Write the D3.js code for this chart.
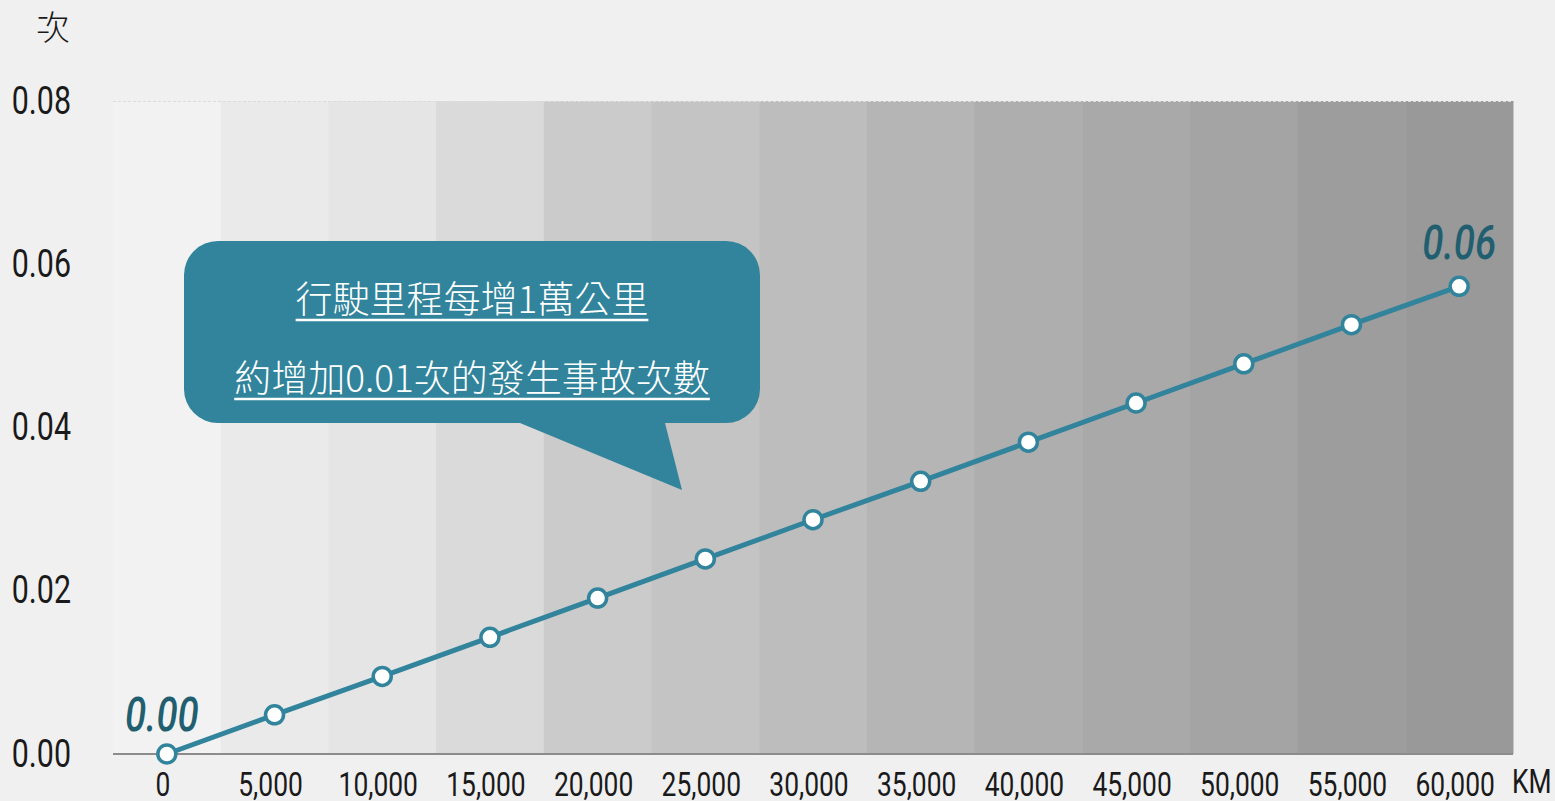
<!DOCTYPE html>
<html>
<head>
<meta charset="utf-8">
<script src="https://cdn.jsdelivr.net/npm/d3@7"></script>
<style>
  body { margin: 0; background: #f0f0f0; }
  svg { display: block; }
</style>
</head>
<body>
<div class="chart"></div>
<script>
// Chart size and plot box
const width = 1555;
const height = 801;
const margin = {top: 101, left: 113, right: 42, bottom: 47};

// Data
const kmValues = [0, 5000, 10000, 15000, 20000, 25000, 30000, 35000, 40000, 45000, 50000, 55000, 60000];
const accidentRate = [0, 0.0048, 0.0095, 0.0143, 0.0191, 0.0239, 0.0287, 0.0334, 0.0382, 0.043, 0.0478, 0.0526, 0.0573];
const bandShades = ['#f2f2f2', '#eaeaea', '#e5e5e5', '#dadada', '#cbcbcb', '#c4c4c4', '#bdbdbd', '#b5b5b5', '#aeaeae', '#a9a9a9', '#a4a4a4', '#9d9d9d', '#999999'];
const yTicks = [0, 0.02, 0.04, 0.06, 0.08];
const endLabels = ['0.00', '0.06'];
const calloutLines = ['行駛里程每增1萬公里', '約增加0.01次的發生事故次數'];

const teal = '#31849b';
const darkTeal = '#215f70';
const numFont = 'Roboto, "Noto Sans", sans-serif';
const cjkFont = '"Noto Sans CJK TC", "Noto Sans CJK SC", sans-serif';
// numbers in the original use a narrow face, so squeeze them a bit
const narrow = 'scale(0.8,1)';

const svg = d3.select('.chart')
  .append('svg')
  .attr('width', width)
  .attr('height', height);

svg.append('rect')
  .attr('width', width)
  .attr('height', height)
  .attr('fill', '#f0f0f0');

// scales - x as bands so each category gets its own shaded column
const xScale = d3.scaleBand()
  .domain(kmValues)
  .range([margin.left, width - margin.right])
  .padding(0);

const yScale = d3.scaleLinear()
  .domain([0, 0.08])
  .range([height - margin.bottom, margin.top]);

const xc = d => xScale(d) + xScale.bandwidth() / 2;

// shaded columns
svg.selectAll('.band')
  .data(kmValues)
  .enter()
  .append('rect')
  .attr('class', 'band')
  .attr('x', d => xScale(d))
  .attr('y', yScale(0.08))
  .attr('width', xScale.bandwidth() + 0.5)
  .attr('height', yScale(0) - yScale(0.08))
  .attr('fill', (d, i) => bandShades[i]);

// dashed top line
svg.append('line')
  .attr('x1', margin.left)
  .attr('x2', width - margin.right)
  .attr('y1', yScale(0.08) + 0.5)
  .attr('y2', yScale(0.08) + 0.5)
  .attr('stroke', '#dcdcdc')
  .attr('stroke-width', 1)
  .attr('stroke-dasharray', '3,2');

// baseline
svg.append('line')
  .attr('x1', margin.left)
  .attr('x2', width - margin.right)
  .attr('y1', yScale(0))
  .attr('y2', yScale(0))
  .attr('stroke', '#8c8c8c')
  .attr('stroke-width', 2);

// y axis labels
const yAxis = d3.axisLeft(yScale)
  .tickValues(yTicks)
  .tickFormat(d3.format('.2f'))
  .tickSize(0)
  .tickPadding(0);

const yAxisG = svg.append('g')
  .attr('transform', 'translate(71,0)')
  .call(yAxis);
yAxisG.select('.domain').remove();
yAxisG.selectAll('text')
  .attr('transform', narrow)
  .attr('font-family', numFont)
  .attr('font-size', 38)
  .attr('fill', '#1a1a1a');

// x axis labels
const xAxis = d3.axisBottom(xScale)
  .tickFormat(d => d === 0 ? '0' : d3.format(',')(d))
  .tickSize(0)
  .tickPadding(0);

const xAxisG = svg.append('g')
  .attr('transform', `translate(-4,${yScale(0)})`)
  .call(xAxis);
xAxisG.select('.domain').remove();
xAxisG.selectAll('text')
  .attr('dy', null)
  .attr('y', 42)
  .attr('transform', narrow)
  .attr('font-family', numFont)
  .attr('font-size', 33)
  .attr('fill', '#1a1a1a');

// axis unit labels
svg.append('text')
  .attr('x', 53)
  .attr('y', 40)
  .attr('text-anchor', 'middle')
  .attr('font-family', cjkFont)
  .attr('font-weight', 300)
  .attr('font-size', 34)
  .attr('fill', '#1a1a1a')
  .text('次');

svg.append('text')
  .attr('transform', 'translate(1512,793) ' + narrow)
  .attr('font-family', numFont)
  .attr('font-size', 33)
  .attr('fill', '#1a1a1a')
  .text('KM');

// the line
const line = d3.line()
  .x((d, i) => xc(kmValues[i]))
  .y(d => yScale(d));

svg.append('path')
  .datum(accidentRate)
  .attr('d', line)
  .attr('fill', 'none')
  .attr('stroke', teal)
  .attr('stroke-width', 5);

svg.selectAll('.dot')
  .data(accidentRate)
  .enter()
  .append('circle')
  .attr('class', 'dot')
  .attr('cx', (d, i) => xc(kmValues[i]))
  .attr('cy', d => yScale(d))
  .attr('r', 9)
  .attr('fill', '#ffffff')
  .attr('stroke', teal)
  .attr('stroke-width', 3.5);

// first and last value labels
const endIdx = [0, kmValues.length - 1];
svg.selectAll('.endLabel')
  .data(endIdx)
  .enter()
  .append('text')
  .attr('class', 'endLabel')
  .attr('transform', (d, i) => `translate(${xc(kmValues[d]) - (i === 0 ? 5 : 0)},${yScale(accidentRate[d]) - (i === 0 ? 23 : 27)}) ${narrow}`)
  .attr('text-anchor', 'middle')
  .attr('font-family', numFont)
  .attr('font-style', 'italic')
  .attr('font-weight', 500)
  .attr('font-size', 48)
  .attr('fill', darkTeal)
  .text((d, i) => endLabels[i]);

// callout bubble
const bx = 184, by = 241, bw = 576, bh = 182, br = 34;
const bubble = d3.path();
bubble.moveTo(bx + br, by);
bubble.lineTo(bx + bw - br, by);
bubble.arcTo(bx + bw, by, bx + bw, by + br, br);
bubble.lineTo(bx + bw, by + bh - br);
bubble.arcTo(bx + bw, by + bh, bx + bw - br, by + bh, br);
bubble.lineTo(665, by + bh);
bubble.lineTo(682, 490);
bubble.lineTo(520, by + bh);
bubble.lineTo(bx + br, by + bh);
bubble.arcTo(bx, by + bh, bx, by + bh - br, br);
bubble.lineTo(bx, by + br);
bubble.arcTo(bx, by, bx + br, by, br);
bubble.closePath();

svg.append('path')
  .attr('d', bubble.toString())
  .attr('fill', teal);

const calloutY = [313, 392];
calloutLines.forEach(function(txt, i) {
  const t = svg.append('text')
    .attr('x', 472)
    .attr('y', calloutY[i])
    .attr('text-anchor', 'middle')
    .attr('font-family', cjkFont)
    .attr('font-weight', 300)
    .attr('font-size', 37)
    .attr('fill', '#ffffff')
    .text(txt);
  const w = t.node().getComputedTextLength();
  svg.append('line')
    .attr('x1', 472 - w / 2)
    .attr('x2', 472 + w / 2)
    .attr('y1', calloutY[i] + 7)
    .attr('y2', calloutY[i] + 7)
    .attr('stroke', '#ffffff')
    .attr('stroke-width', 2.5);
});
</script>
</body>
</html>
